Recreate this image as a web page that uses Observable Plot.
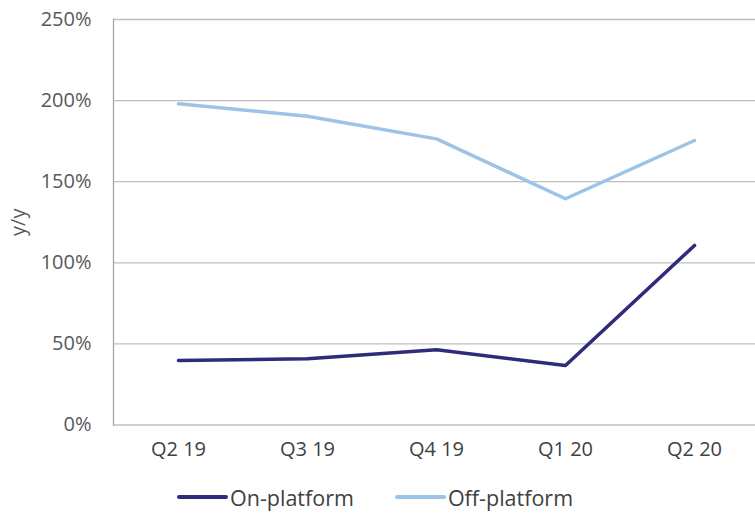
<!DOCTYPE html>
<html>
<head>
<meta charset="utf-8">
<script src="https://cdn.jsdelivr.net/npm/d3@7"></script>
<script src="https://cdn.jsdelivr.net/npm/@observablehq/plot@0.6"></script>
<style>
  html, body { margin: 0; padding: 0; background: #fff; }
  body { width: 755px; font-family: "Open Sans", sans-serif; color: #595959; }
  #legend { display: flex; justify-content: flex-start; align-items: center; height: 44px; padding-left: 177px; font-size: 21.5px; color: #404040; }
  .item { display: flex; align-items: center; margin-right: 41px; }
  .sw { width: 51px; height: 4px; margin-right: 2px; border-radius: 2px; }
</style>
</head>
<body>
<div id="chart"></div>
<div id="legend"></div>
<script>
const quarters = ["Q2 19", "Q3 19", "Q4 19", "Q1 20", "Q2 20"];
const onPlatform = [39.8, 40.8, 46.4, 36.7, 110.7];
const offPlatform = [198.0, 190.4, 176.4, 139.5, 175.4];
const seriesNames = ["On-platform", "Off-platform"];
const seriesColors = ["#2e2b7c", "#9dc3e6"];
const yTicks = [0, 50, 100, 150, 200, 250];

const rows = [
  ...quarters.map((q, i) => ({quarter: q, value: onPlatform[i], series: seriesNames[0]})),
  ...quarters.map((q, i) => ({quarter: q, value: offPlatform[i], series: seriesNames[1]}))
];

const chart = Plot.plot({
  width: 755,
  height: 475,
  marginLeft: 113,
  marginRight: 0,
  marginTop: 19,
  marginBottom: 50.5,
  style: {fontFamily: "Open Sans, sans-serif", fontSize: "20px", color: "#595959", background: "#fff"},
  x: {type: "point", domain: quarters, range: [177, 695], padding: 0},
  y: {domain: [0, 250]},
  color: {domain: seriesNames, range: seriesColors},
  marks: [
    Plot.gridY(yTicks, {stroke: "#bfbfbf", strokeOpacity: 1, strokeWidth: 1.3}),
    Plot.frame({anchor: "left", stroke: "#a6a6a6", strokeWidth: 1.3}),
    Plot.axisY(yTicks, {tickSize: 0, tickPadding: 22, tickFormat: d => d + "%", label: "y/y", labelAnchor: "center", labelArrow: "none", labelOffset: 103, fontSize: 20}),
    Plot.axisX({tickSize: 0, tickPadding: 17, label: null, fontSize: 20, fill: "#404040"}),
    Plot.line(rows, {x: "quarter", y: "value", z: "series", stroke: "series", strokeWidth: 3.5, strokeLinejoin: "round"})
  ]
});
document.getElementById("chart").appendChild(chart);

const legend = document.getElementById("legend");
seriesNames.forEach((name, i) => {
  const item = document.createElement("div");
  item.className = "item";
  const sw = document.createElement("div");
  sw.className = "sw";
  sw.style.background = seriesColors[i];
  const label = document.createElement("span");
  label.textContent = name;
  item.appendChild(sw);
  item.appendChild(label);
  legend.appendChild(item);
});
</script>
</body>
</html>
